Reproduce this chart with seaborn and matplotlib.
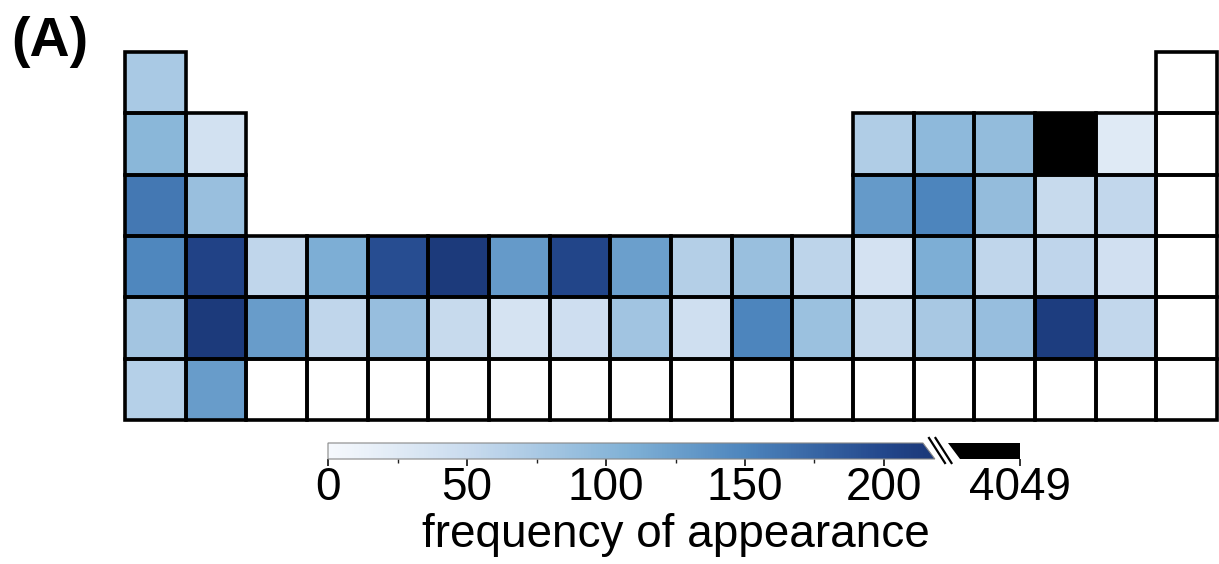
import numpy as np
import pandas as pd
import matplotlib.pyplot as plt
import seaborn as sns
from matplotlib.colors import LinearSegmentedColormap
from matplotlib.patches import Polygon, Rectangle
from matplotlib.lines import Line2D

# =========================================================
# DATA  (frequency of appearance per element, NaN = none)
# =========================================================

period_1 = ["H", "He"]
period_2 = ["Li", "Be", "B", "C", "N", "O", "F", "Ne"]
period_3 = ["Na", "Mg", "Al", "Si", "P", "S", "Cl", "Ar"]
period_4 = ["K", "Ca", "Sc", "Ti", "V", "Cr", "Mn", "Fe", "Co",
            "Ni", "Cu", "Zn", "Ga", "Ge", "As", "Se", "Br", "Kr"]
period_5 = ["Rb", "Sr", "Y", "Zr", "Nb", "Mo", "Tc", "Ru", "Rh",
            "Pd", "Ag", "Cd", "In", "Sn", "Sb", "Te", "I", "Xe"]
period_6 = ["Cs", "Ba", "La", "Hf", "Ta", "W", "Re", "Os", "Ir",
            "Pt", "Au", "Hg", "Tl", "Pb", "Bi", "Po", "At", "Rn"]

nan = np.nan
counts_1 = [75, nan]
counts_2 = [100, 40, 70, 97, 93, 4049, 25, nan]
counts_3 = [160, 88, 130, 150, 92, 52, 55, nan]
counts_4 = [148, 205, 57, 110, 195, 215, 130, 202, 125,
            67, 88, 60, 38, 110, 57, 58, 42, nan]
counts_5 = [80, 215, 128, 57, 90, 52, 37, 45, 82,
            43, 150, 86, 52, 76, 90, 212, 55, nan]
counts_6 = [66, 128, nan, nan, nan, nan, nan, nan, nan,
            nan, nan, nan, nan, nan, nan, nan, nan, nan]

# group (column) of each element in its period
groups_short_1 = [1, 18]
groups_short = [1, 2, 13, 14, 15, 16, 17, 18]
groups_long = list(range(1, 19))

cbar_ticks = [0, 50, 100, 150, 200]
cbar_minor = [25, 75, 125, 175]
VMAX = 220

# =========================================================
# BUILD GRID
# =========================================================

periods = [
    (period_1, counts_1, groups_short_1),
    (period_2, counts_2, groups_short),
    (period_3, counts_3, groups_short),
    (period_4, counts_4, groups_long),
    (period_5, counts_5, groups_long),
    (period_6, counts_6, groups_long),
]

grid = pd.DataFrame(nan, index=range(1, 7), columns=range(1, 19))
present = pd.DataFrame(False, index=range(1, 7), columns=range(1, 19))

for p, (symbols, vals, grps) in enumerate(periods, start=1):
    for s, v, g in zip(symbols, vals, grps):
        grid.loc[p, g] = v
        present.loc[p, g] = True

# =========================================================
# COLORS
# =========================================================

cmap = LinearSegmentedColormap.from_list(
    "freq",
    [(0.0, "#f6f9fd"),
     (50 / VMAX, "#c9dbee"),
     (108 / VMAX, "#80b1d6"),
     (150 / VMAX, "#4d85bd"),
     (200 / VMAX, "#23478c"),
     (1.0, "#1a3676")]
)
cmap.set_over("black")

# =========================================================
# FIGURE
# =========================================================

plt.rcParams["font.family"] = ["Liberation Sans", "DejaVu Sans"]

W, H = 1219, 564
fig = plt.figure(figsize=(W / 100, H / 100), dpi=100)


def px(x0, y0, x1, y1):
    return [x0 / W, 1 - y1 / H, (x1 - x0) / W, (y1 - y0) / H]


ax = fig.add_axes(px(125, 52, 1217, 420))
cax = fig.add_axes(px(328, 443, 328 + VMAX * 2.78, 459))
kax = fig.add_axes(px(948, 443, 1020, 459))

sns.heatmap(
    grid,
    mask=grid.isna(),
    cmap=cmap,
    vmin=0,
    vmax=VMAX,
    linewidths=0,
    ax=ax,
    cbar_ax=cax,
    cbar_kws={"orientation": "horizontal", "ticks": cbar_ticks},
    xticklabels=False,
    yticklabels=False,
)

# cell borders for every element that exists in the table
for i, p in enumerate(present.index):
    for j, g in enumerate(present.columns):
        if present.loc[p, g]:
            ax.add_patch(Rectangle((j, i), 1, 1, fill=False,
                                   edgecolor="black", linewidth=2.6,
                                   clip_on=False, zorder=3))

ax.set_xlim(0, 18)
ax.set_ylim(6, 0)
ax.axis("off")

# =========================================================
# COLORBAR
# =========================================================

cbar = ax.collections[0].colorbar
cbar.outline.set_visible(False)
cax.set_xticks(cbar_ticks)
cax.set_xticks(cbar_minor, minor=True)
cax.set_xticklabels([str(t) for t in cbar_ticks])
cax.tick_params(axis="x", which="major", length=5, width=1.3,
                labelsize=33, pad=0, color="#222222")
cax.tick_params(axis="x", which="minor", length=3, width=1.0,
                color="#222222")

# slanted end of the blue part
cut_top, cut_bot = 214, 218.3
cax.add_patch(Polygon([(cut_top, 1), (VMAX + 2, 1), (VMAX + 2, 0), (cut_bot, 0)],
                      closed=True, facecolor="white", edgecolor="none",
                      clip_on=False, zorder=5))
cax.add_patch(Polygon([(0, 0), (0, 1), (cut_top, 1), (cut_bot, 0)],
                      closed=True, fill=False, edgecolor="#888888",
                      linewidth=0.8, clip_on=False, zorder=6))

# black part for the out-of-range maximum (oxygen)
top_value = int(np.nanmax(grid.values))
kax.set_xlim(0, 1)
kax.set_ylim(0, 1)
kax.add_patch(Polygon([(0, 1), (1, 1), (1, 0), (12 / 72, 0)], closed=True,
                      facecolor=cmap(1e9), edgecolor="none"))
for s in kax.spines.values():
    s.set_visible(False)
kax.set_yticks([])
kax.set_xticks([1])
kax.set_xticklabels([str(top_value)])
kax.tick_params(axis="x", length=5, width=1.3, labelsize=33, pad=0,
                color="#222222")

# break marks
for dx in (0, 6.5):
    fig.add_artist(Line2D([(929 + dx) / W, (945 + dx) / W],
                          [1 - 438 / H, 1 - 463 / H],
                          color="black", linewidth=1.6))

# =========================================================
# TEXT
# =========================================================

fig.text(676 / W, 1 - 547 / H, "frequency of appearance",
         fontsize=33, ha="center", va="baseline")

fig.text(11 / W, 1 - 56 / H, "(A)", fontsize=40, fontweight="bold",
         ha="left", va="baseline")

plt.savefig("out.png", dpi=100)
